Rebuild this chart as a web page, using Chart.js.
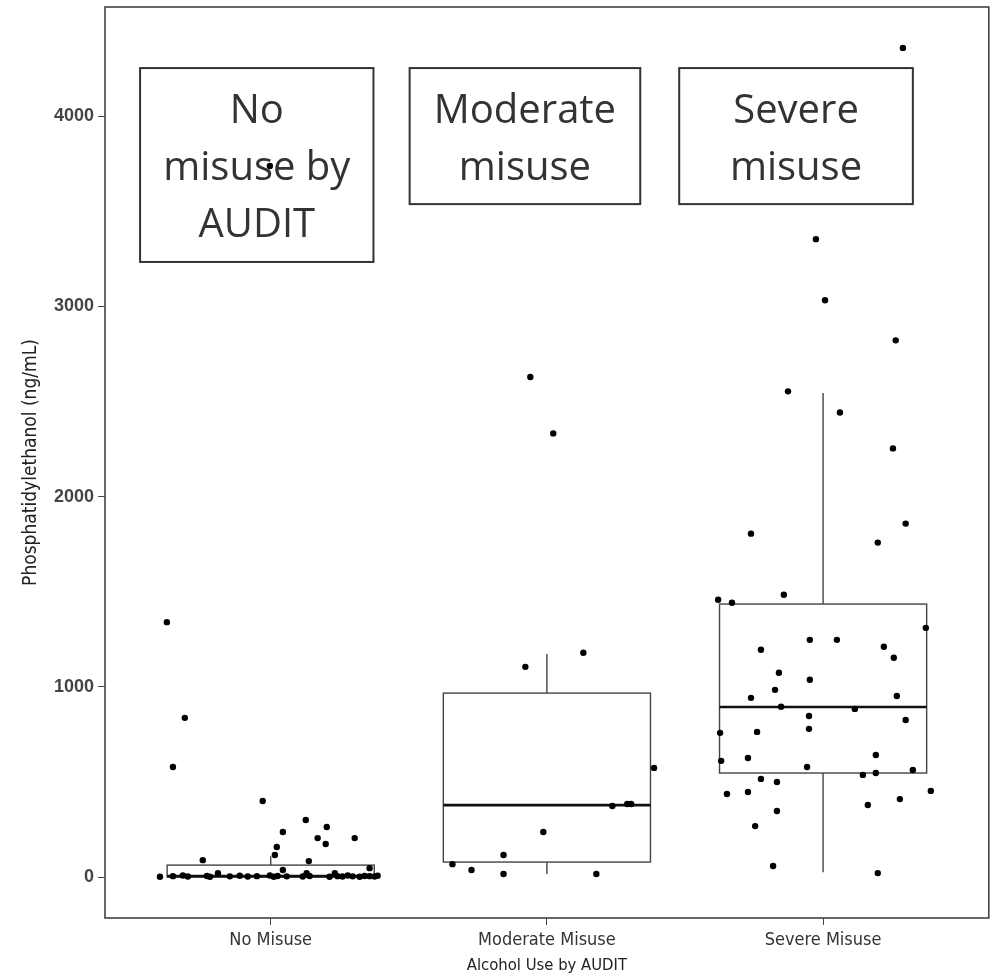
<!DOCTYPE html>
<html>
<head>
<meta charset="utf-8">
<script src="https://cdn.jsdelivr.net/npm/chart.js@4.4.1/dist/chart.umd.min.js"></script>
<style>
  body { margin: 0; background: #fff; }
  #wrap { width: 992px; height: 977px; }
</style>
</head>
<body>
<div id="wrap"><canvas id="chart"></canvas></div>
<script>
const groups = ['No Misuse', 'Moderate Misuse', 'Severe Misuse'];
const yTicks = [0, 1000, 2000, 3000, 4000];

// box statistics per group
const boxQ1 = [0, 79, 547];
const boxMedian = [5, 378, 894];
const boxQ3 = [63, 967, 1435];
const whiskerLow = [0, 16, 26];
const whiskerHigh = [110, 1172, 2544];

// jittered points (x = jittered group position, y = value)
const noMisuseX = [0.624, 0.689, 0.646, 0.971, 1.044, 1.022, 1.015, 1.127, 1.203, 1.170, 1.199, 1.304, 1.138, 0.754, 1.358, 0.997,
  0.599, 0.646, 0.682, 0.700, 0.769, 0.780, 0.809, 0.852, 0.888, 0.917, 0.950, 0.997, 1.011, 1.025, 1.044, 1.058,
  1.116, 1.130, 1.141, 1.213, 1.232, 1.242, 1.260, 1.279, 1.297, 1.322, 1.340, 1.358, 1.376, 1.387];
const noMisuseY = [1340, 837, 579, 400, 237, 158, 116, 300, 263, 205, 174, 205, 84, 89, 47, 3737,
  2, 5, 8, 3, 6, 2, 20, 4, 7, 3, 5, 8, 2, 6, 37, 4,
  3, 20, 6, 2, 20, 5, 3, 8, 4, 2, 6, 5, 3, 7];

const moderateX = [1.940, 2.023, 1.922, 2.132, 2.388, 2.237, 2.291, 2.305, 1.987, 1.843, 1.658, 1.727, 1.843, 2.179];
const moderateY = [2628, 2332, 1105, 1179, 574, 374, 384, 384, 237, 116, 68, 37, 16, 16];

const severeX = [3.289, 2.974, 3.007, 3.263, 2.873, 3.061, 3.253, 3.299, 2.739, 3.198, 2.670, 2.620, 2.858, 3.372,
  2.952, 3.050, 2.775, 3.220, 3.256, 2.840, 2.952, 2.826, 2.739, 3.267, 2.848, 3.115, 2.949, 3.299, 2.627, 2.761,
  2.949, 2.631, 2.728, 3.191, 2.942, 2.775, 2.833, 3.144, 3.191, 3.325, 2.652, 2.728, 3.390, 2.833, 3.162, 3.278,
  2.754, 2.819, 3.198];
const severeY = [4358, 3353, 3032, 2821, 2553, 2442, 2253, 1858, 1805, 1758, 1442, 1458, 1484, 1310,
  1247, 1247, 1195, 1211, 1153, 1074, 1037, 984, 942, 952, 895, 884, 847, 826, 758, 763,
  779, 611, 626, 642, 579, 516, 500, 537, 547, 563, 437, 447, 453, 347, 379, 410,
  268, 58, 21];

const noteLines = [['No', 'misuse by', 'AUDIT'], ['Moderate', 'misuse'], ['Severe', 'misuse']];

const narrow = '"Liberation Sans Narrow", "DejaVu Sans Condensed", "Liberation Sans", sans-serif';

function toPoints(xs, ys) {
  return xs.map((x, i) => ({ x: x, y: ys[i] }));
}

const boxPlugin = {
  id: 'boxes',
  beforeDatasetsDraw(chart) {
    const ctx = chart.ctx;
    const xs = chart.scales.x, ys = chart.scales.y;
    const half = 0.375;
    ctx.save();
    groups.forEach((g, i) => {
      const c = i + 1;
      const cx = xs.getPixelForValue(c);
      const l = xs.getPixelForValue(c - half), r = xs.getPixelForValue(c + half);
      const top = ys.getPixelForValue(boxQ3[i]), bot = ys.getPixelForValue(boxQ1[i]);
      ctx.strokeStyle = '#444';
      ctx.lineWidth = 1.4;
      ctx.beginPath();
      ctx.moveTo(cx, top);
      ctx.lineTo(cx, ys.getPixelForValue(whiskerHigh[i]));
      ctx.moveTo(cx, bot);
      ctx.lineTo(cx, ys.getPixelForValue(whiskerLow[i]));
      ctx.stroke();
      ctx.fillStyle = '#fff';
      ctx.fillRect(l, top, r - l, bot - top);
      ctx.strokeRect(l, top, r - l, bot - top);
      const m = ys.getPixelForValue(boxMedian[i]);
      ctx.strokeStyle = '#111';
      ctx.lineWidth = 2.6;
      ctx.beginPath();
      ctx.moveTo(l, m);
      ctx.lineTo(r, m);
      ctx.stroke();
    });

    // text notes above each group
    const noteX0 = [0.527, 1.503, 2.479];
    const noteX1 = [1.372, 2.338, 3.325];
    const noteTop = 4252;
    const noteBottom = [3233, 3537, 3537];
    ctx.font = '40px "Open Sans"';
    ctx.textAlign = 'center';
    ctx.textBaseline = 'alphabetic';
    noteLines.forEach((lines, i) => {
      const l = xs.getPixelForValue(noteX0[i]), r = xs.getPixelForValue(noteX1[i]);
      const t = ys.getPixelForValue(noteTop), b = ys.getPixelForValue(noteBottom[i]);
      ctx.fillStyle = '#fff';
      ctx.fillRect(l, t, r - l, b - t);
      ctx.strokeStyle = '#333';
      ctx.lineWidth = 2;
      ctx.strokeRect(l, t, r - l, b - t);
      ctx.fillStyle = '#333';
      const mid = (t + b) / 2;
      lines.forEach((s, k) => {
        ctx.fillText(s, (l + r) / 2, mid + (k - (lines.length - 1) / 2) * 57 + 15);
      });
    });
    ctx.restore();
  },
  afterDraw(chart) {
    const a = chart.chartArea;
    const ctx = chart.ctx;
    ctx.save();
    ctx.strokeStyle = '#444';
    ctx.lineWidth = 1.6;
    ctx.strokeRect(a.left, a.top, a.right - a.left, a.bottom - a.top);
    ctx.restore();
  }
};

const pointStyle = { backgroundColor: '#000', borderWidth: 0, pointRadius: 3.2, pointHoverRadius: 3.2 };

new Chart(document.getElementById('chart'), {
  type: 'scatter',
  data: {
    datasets: [
      Object.assign({ label: groups[0], data: toPoints(noMisuseX, noMisuseY) }, pointStyle),
      Object.assign({ label: groups[1], data: toPoints(moderateX, moderateY) }, pointStyle),
      Object.assign({ label: groups[2], data: toPoints(severeX, severeY) }, pointStyle)
    ]
  },
  options: {
    responsive: true,
    maintainAspectRatio: false,
    animation: false,
    layout: { padding: { left: 0, right: 2, top: 7, bottom: 0 } },
    plugins: { legend: { display: false }, tooltip: { enabled: false } },
    scales: {
      x: {
        type: 'linear',
        min: 0.4,
        max: 3.6,
        afterBuildTicks: s => { s.ticks = groups.map((g, i) => ({ value: i + 1 })); },
        afterFit: s => { s.height = 59; s.paddingLeft = 0; s.paddingRight = 0; },
        ticks: {
          callback: v => groups[v - 1],
          color: '#333',
          font: { family: narrow, size: 18 },
          padding: 5,
          maxRotation: 0
        },
        grid: { drawOnChartArea: false, tickLength: 7, color: '#444' },
        border: { display: false },
        title: {
          display: true,
          text: 'Alcohol Use by AUDIT',
          color: '#222',
          font: { family: narrow, size: 16.5 },
          padding: { top: 0, bottom: 1 }
        }
      },
      y: {
        min: -215,
        max: 4573,
        afterBuildTicks: s => { s.ticks = yTicks.map(v => ({ value: v })); },
        afterFit: s => { s.width = 105; s.paddingTop = 0; s.paddingBottom = 0; },
        ticks: {
          callback: v => String(v),
          color: '#444',
          font: { family: 'Liberation Sans', size: 18, weight: 'bold' },
          padding: 4
        },
        grid: { drawOnChartArea: false, tickLength: 7, color: '#444' },
        border: { display: false },
        title: {
          display: true,
          text: 'Phosphatidylethanol (ng/mL)',
          color: '#222',
          font: { family: narrow, size: 19 },
          padding: { top: 20, bottom: 0 }
        }
      }
    }
  },
  plugins: [boxPlugin]
});
</script>
</body>
</html>
